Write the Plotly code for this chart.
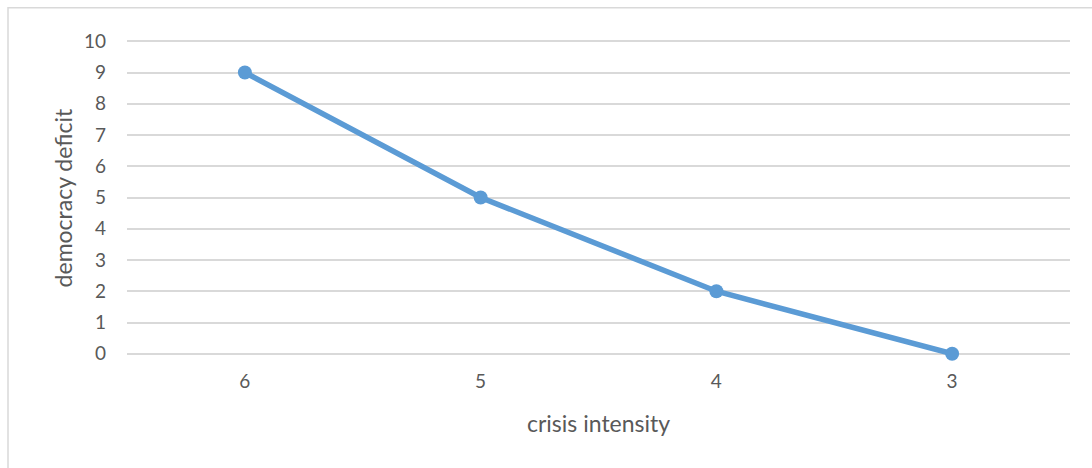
import plotly.graph_objects as go

crisis_intensity = ["6", "5", "4", "3"]
democracy_deficit = [9, 5, 2, 0]
y_ticks = list(range(0, 11))

FONT = "Lato, Open Sans, sans-serif"
TXT = "#595959"

fig = go.Figure(
    go.Scatter(
        x=crisis_intensity,
        y=democracy_deficit,
        mode="lines+markers",
        line=dict(color="#5B9BD5", width=5.5),
        marker=dict(color="#5B9BD5", size=14),
        cliponaxis=False,
        showlegend=False,
    )
)

fig.update_layout(
    width=1092,
    height=468,
    margin=dict(l=127, r=22, t=40, b=113),
    paper_bgcolor="white",
    plot_bgcolor="white",
    font=dict(family=FONT, size=19, color=TXT),
    xaxis=dict(
        type="category",
        range=[-0.5, 3.5],
        showgrid=False,
        showline=False,
        zeroline=False,
        ticks="",
        ticklabelstandoff=13,
        tickfont=dict(size=19, color=TXT),
    ),
    yaxis=dict(
        range=[-0.04, 10.04],
        tickvals=y_ticks,
        showgrid=True,
        gridcolor="#D9D9D9",
        gridwidth=1.5,
        zeroline=True,
        zerolinecolor="#D9D9D9",
        zerolinewidth=1.5,
        showline=False,
        ticks="",
        ticklabelstandoff=20,
        tickfont=dict(size=19, color=TXT),
    ),
    annotations=[
        dict(
            text="crisis intensity",
            xref="paper", yref="paper",
            x=0.5, y=-0.217,
            xanchor="center", yanchor="middle",
            showarrow=False,
            font=dict(size=23, color=TXT, family=FONT),
        ),
        dict(
            text="democracy deficit",
            xref="paper", yref="paper",
            x=-0.068, y=0.5,
            xanchor="center", yanchor="middle",
            textangle=-90,
            showarrow=False,
            font=dict(size=23, color=TXT, family=FONT),
        ),
    ],
    shapes=[
        dict(
            type="rect",
            xref="paper", yref="paper",
            x0=-0.1262, x1=1.1, y0=-0.40, y1=1.102,
            line=dict(color="#D9D9D9", width=1.5),
            fillcolor="rgba(0,0,0,0)",
            layer="below",
        )
    ],
)

fig.write_html("out.html")
